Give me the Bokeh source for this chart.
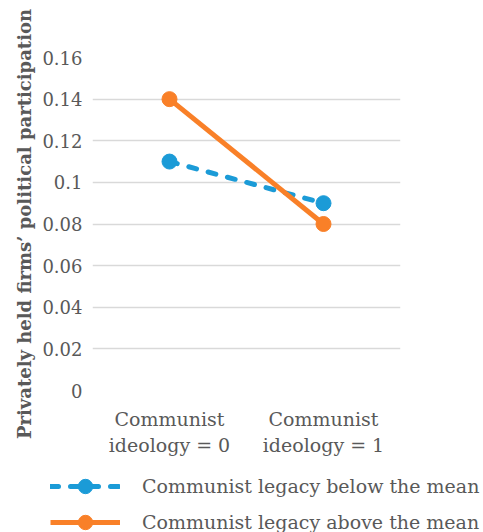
from bokeh.plotting import figure
from bokeh.models import Legend, LegendItem, FactorRange, Range1d, FixedTicker
from bokeh.layouts import column
from bokeh.embed import file_html
from bokeh.resources import INLINE

categories = ["Communist\nideology = 0", "Communist\nideology = 1"]
below_mean = [0.11, 0.09]
above_mean = [0.14, 0.08]
y_ticks = [0, 0.02, 0.04, 0.06, 0.08, 0.1, 0.12, 0.14, 0.16]
y_tick_labels = ["0", "0.02", "0.04", "0.06", "0.08", "0.1", "0.12", "0.14", "0.16"]
series_names = ["Communist legacy below the mean", "Communist legacy above the mean"]

FONT = "DejaVu Serif"
GRAY = "#595959"
BLUE = "#1b9bd7"
ORANGE = "#f98028"

p = figure(width=483, height=458, x_range=FactorRange(factors=categories, range_padding=0),
           y_range=Range1d(0, 0.16), output_backend="svg", toolbar_location=None,
           min_border_left=92, min_border_right=83, min_border_top=57, min_border_bottom=68)
p.outline_line_color = None
p.background_fill_color = "white"

p.yaxis.ticker = FixedTicker(ticks=y_ticks)
p.yaxis.major_label_overrides = {t: l for t, l in zip(y_ticks, y_tick_labels)}
for ax in (p.xaxis[0], p.yaxis[0]):
    ax.axis_line_color = None
    ax.major_tick_line_color = None
    ax.minor_tick_line_color = None
    ax.major_tick_out = 0
    ax.major_tick_in = 0
    ax.minor_tick_out = 0
    ax.major_label_text_font = FONT
    ax.major_label_text_color = GRAY
p.yaxis.major_label_text_font_size = "18px"
p.xaxis.major_label_text_font_size = "19px"
p.yaxis.major_label_standoff = 10
p.xaxis.major_label_standoff = 17
p.yaxis.axis_label = "Privately held firms\u2019 political participation"
p.yaxis.axis_label_text_font = FONT
p.yaxis.axis_label_text_font_style = "bold"
p.yaxis.axis_label_text_font_size = "18px"
p.yaxis.axis_label_text_color = GRAY
p.yaxis.axis_label_standoff = 4

p.xgrid.grid_line_color = None
p.ygrid.grid_line_color = "#d9d9d9"
p.ygrid.grid_line_width = 1.5

line_kw = [dict(line_color=BLUE, line_width=5, line_dash="8 12", line_cap="round"),
           dict(line_color=ORANGE, line_width=5)]
dot_kw = [dict(size=15, fill_color=BLUE, line_color=BLUE),
          dict(size=15, fill_color=ORANGE, line_color=ORANGE)]
series = [below_mean, above_mean]

for vals, lk, dk in zip(series, line_kw, dot_kw):
    p.line(categories, vals, **lk)
    p.scatter(categories, vals, **dk)

# legend panel below the chart (its own series copies sit outside its visible range)
lg = figure(width=483, height=74, output_backend="svg", toolbar_location=None,
            x_range=FactorRange(factors=categories), y_range=Range1d(1, 2),
            min_border_left=0, min_border_right=0, min_border_top=0, min_border_bottom=0)
if "frame_align" in lg.properties():
    lg.frame_align = False
lg.axis.visible = False
lg.grid.visible = False
lg.outline_line_color = None
items = []
for name, vals, lk, dk in zip(series_names, series, line_kw, dot_kw):
    lr = lg.line(categories, vals, **lk)
    sr = lg.scatter(categories, vals, **dk)
    items.append(LegendItem(label=name, renderers=[lr, sr]))
legend = Legend(items=items, location=(50, -8), padding=0, margin=0, spacing=0,
                glyph_width=70, glyph_height=36, label_standoff=22, label_height=20,
                label_text_font=FONT, label_text_font_size="19px", label_text_color=GRAY,
                border_line_color=None, background_fill_alpha=0)
lg.add_layout(legend, "center")

open("out.html", "w").write(file_html(column(p, lg, spacing=0), INLINE))
